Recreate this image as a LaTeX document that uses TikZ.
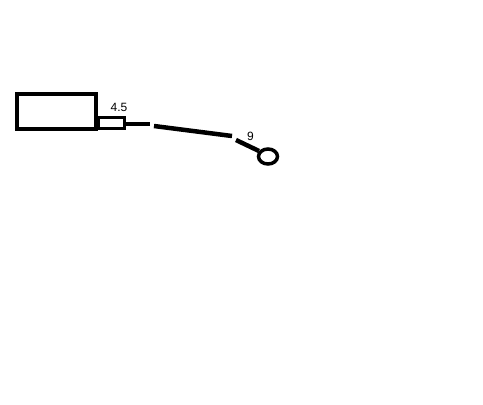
\documentclass[tikz,border=0pt]{standalone}
\usepackage{fontspec}
\setmainfont{Liberation Sans}
\tikzset{
  heavy/.style={line width=4.5pt},
  label text/.style={inner sep=0pt, font=\fontsize{12}{14}\selectfont}
}
\begin{document}
\begin{tikzpicture}[x=1pt, y=-1pt]
                \useasboundingbox (0,0) rectangle (483,405);
                \draw [heavy] (17,94) rectangle (96,129);
                \draw [line width=3pt] (98.5,117.5) rectangle (124.5,128.5);
                \coordinate (plug) at (124.5,124);
                \coordinate (a) at (150,124);
                \coordinate (b) at (154,126);
                \coordinate (c) at (232,136);
                \coordinate (d) at (236,140);
                \coordinate (e) at (259,151);
                \draw [heavy] (plug)--(a);
                \draw [heavy] (b)--(c);
                \draw [heavy] (d)--(e);
                \draw [line width=3.5pt] (268,156.5) ellipse [x radius=9.5, y radius=7.5];
                \node [label text] (len1) at (119,107) {4.5};
                \node [label text] (len2) at (250.5,136.5) {9};
            \end{tikzpicture}
\end{document}
